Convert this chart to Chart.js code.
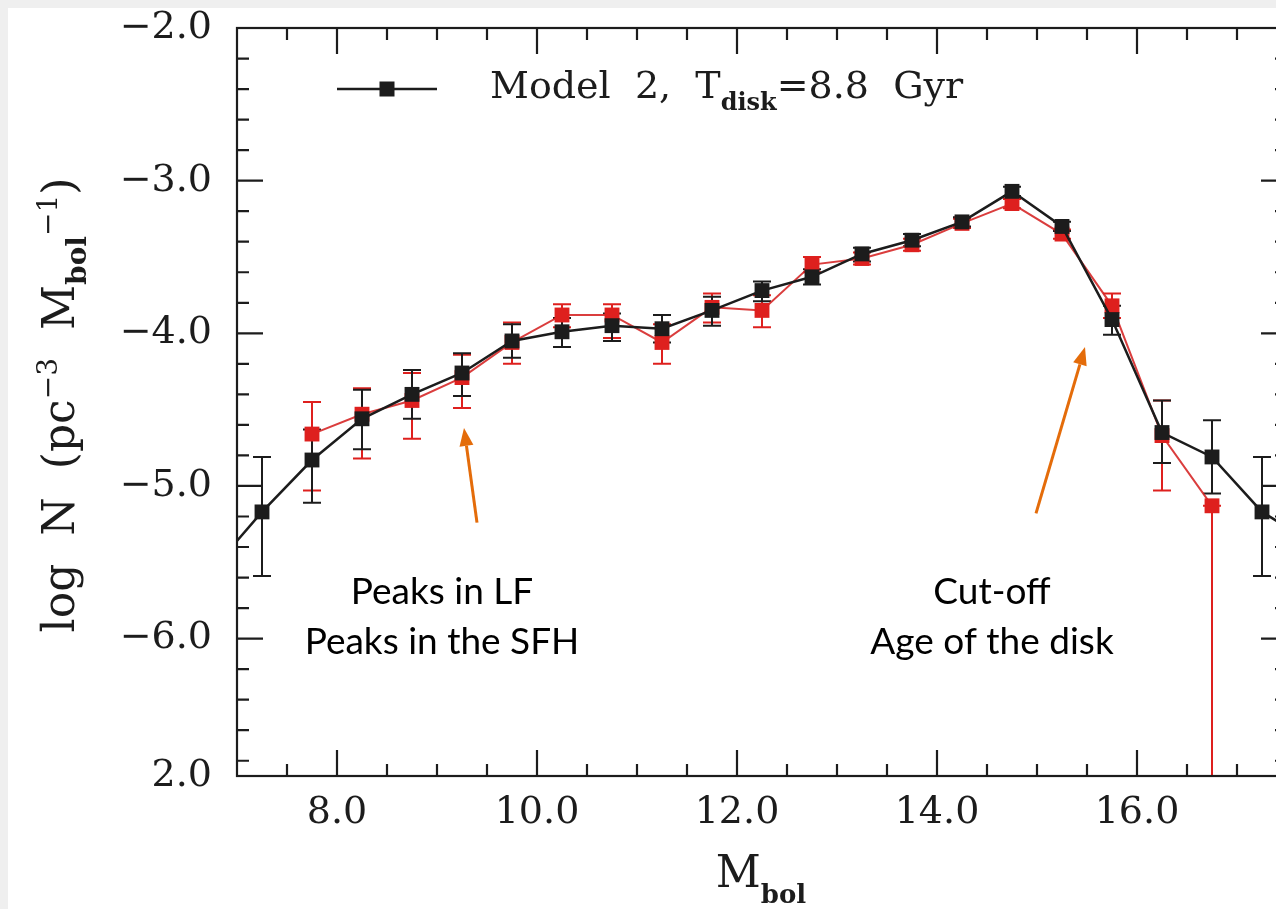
<!DOCTYPE html>
<html>
<head>
<meta charset="utf-8">
<script src="https://cdn.jsdelivr.net/npm/chart.js@4.4.1/dist/chart.umd.min.js"></script>
<style>
  html, body { margin: 0; padding: 0; background: #efefef; }
  #wrap { position: relative; width: 1276px; height: 909px; overflow: hidden; background: #efefef; }
  #panel { position: absolute; left: 8px; top: 8px; right: 0; bottom: 0; background: #fff; }
  #lf { position: absolute; left: 0; top: 0; }
</style>
</head>
<body>
<div id="wrap">
  <div id="panel"></div>
  <canvas id="lf" width="1300" height="909"></canvas>
</div>
<script>
// bolometric magnitude bins (bin centres)
const modelMbol = [6.75, 7.25, 7.75, 8.25, 8.75, 9.25, 9.75, 10.25, 10.75, 11.25, 11.75,
  12.25, 12.75, 13.25, 13.75, 14.25, 14.75, 15.25, 15.75, 16.25, 16.75, 17.25, 17.75];
// Model 2 luminosity function, log N
const modelLogN = [-5.55, -5.17, -4.83, -4.56, -4.40, -4.26, -4.05, -3.99, -3.95, -3.97, -3.85,
  -3.72, -3.63, -3.48, -3.39, -3.27, -3.07, -3.30, -3.91, -4.65, -4.81, -5.17, -5.37];
const modelErrLo = [null, -5.59, -5.11, -4.76, -4.56, -4.41, -4.16, -4.09, -4.05, -4.06, -3.95,
  -3.79, -3.68, -3.53, -3.43, -3.30, -3.10, -3.33, -4.01, -4.85, -5.05, -5.59, null];
const modelErrHi = [null, -4.81, -4.63, -4.37, -4.24, -4.13, -3.94, -3.90, -3.87, -3.88, -3.76,
  -3.66, -3.58, -3.44, -3.35, -3.24, -3.04, -3.27, -3.82, -4.44, -4.57, -4.81, null];

// observed luminosity function
const obsMbol = [7.75, 8.25, 8.75, 9.25, 9.75, 10.25, 10.75, 11.25, 11.75, 12.25,
  12.75, 13.25, 13.75, 14.25, 14.75, 15.25, 15.75, 16.25, 16.75];
const obsLogN = [-4.66, -4.53, -4.44, -4.29, -4.06, -3.88, -3.88, -4.06, -3.83, -3.85,
  -3.55, -3.51, -3.42, -3.28, -3.15, -3.35, -3.82, -4.67, -5.13];
const obsErrLo = [-5.03, -4.82, -4.69, -4.49, -4.20, -3.96, -4.03, -4.20, -3.93, -3.96,
  -3.60, -3.55, -3.46, -3.31, -3.18, -3.38, -3.90, -5.03, -9.0];
const obsErrHi = [-4.45, -4.36, -4.26, -4.14, -3.93, -3.81, -3.81, -3.94, -3.74, -3.75,
  -3.50, -3.47, -3.38, -3.25, -3.12, -3.32, -3.74, -4.44, -5.13];

const xTickValues = [8, 10, 12, 14, 16];
const xTickLabels = ['8.0', '10.0', '12.0', '14.0', '16.0'];
const yTickValues = [-6.9, -6, -5, -4, -3, -2];
const yTickLabels = ['2.0', '\u22126.0', '\u22125.0', '\u22124.0', '\u22123.0', '\u22122.0'];

const INK = '#1c1c1c';
const RED = 'rgb(222,32,30)';
const ORANGE = '#E46C0A';
const SERIF = '"DejaVu Serif", serif';
const NOTE = 'Lato, "Open Sans", sans-serif';

function pairs(xs, ys) {
  return xs.map((x, i) => ({ x: x, y: ys[i] }));
}

// draw a sequence of text pieces (sub/superscripts) one after another
function textRuns(ctx, parts, x, y) {
  for (const p of parts) {
    ctx.font = p.f;
    ctx.fillText(p.t, x, y + (p.dy || 0));
    x += ctx.measureText(p.t).width;
  }
  return x;
}

function runsWidth(ctx, parts) {
  let w = 0;
  for (const p of parts) { ctx.font = p.f; w += ctx.measureText(p.t).width; }
  return w;
}

function errorBars(chart, xs, lo, hi, color) {
  const { ctx, chartArea: a, scales: { x, y } } = chart;
  ctx.save();
  ctx.beginPath();
  ctx.rect(a.left, a.top, a.right - a.left, a.bottom - a.top);
  ctx.clip();
  ctx.strokeStyle = color;
  ctx.lineWidth = 2;
  xs.forEach((m, i) => {
    if (lo[i] == null) return;
    const px = x.getPixelForValue(m);
    const p1 = y.getPixelForValue(lo[i]);
    const p2 = y.getPixelForValue(hi[i]);
    ctx.beginPath();
    ctx.moveTo(px, p1); ctx.lineTo(px, p2);
    ctx.moveTo(px - 9, p1); ctx.lineTo(px + 9, p1);
    ctx.moveTo(px - 9, p2); ctx.lineTo(px + 9, p2);
    ctx.stroke();
  });
  ctx.restore();
}

function arrow(ctx, x0, y0, x1, y1) {
  const ang = Math.atan2(y1 - y0, x1 - x0);
  const len = 18, half = 7;
  const bx = x1 - len * Math.cos(ang), by = y1 - len * Math.sin(ang);
  ctx.beginPath();
  ctx.moveTo(x0, y0);
  ctx.lineTo(bx, by);
  ctx.stroke();
  ctx.beginPath();
  ctx.moveTo(x1, y1);
  ctx.lineTo(bx + half * Math.sin(ang), by - half * Math.cos(ang));
  ctx.lineTo(bx - half * Math.sin(ang), by + half * Math.cos(ang));
  ctx.closePath();
  ctx.fill();
}

const decorations = {
  id: 'decorations',
  beforeDatasetsDraw(chart) {
    errorBars(chart, obsMbol, obsErrLo, obsErrHi, RED);
    errorBars(chart, modelMbol, modelErrLo, modelErrHi, INK);
  },
  afterDatasetsDraw(chart) {
    const { ctx, chartArea: a, scales: { x, y } } = chart;
    ctx.save();
    ctx.strokeStyle = INK;
    ctx.lineWidth = 2.2;
    ctx.strokeRect(a.left, a.top, a.right - a.left, a.bottom - a.top);
    ctx.beginPath();
    // x ticks every 0.5, long ones on the labelled values
    for (let k = 15; k <= 34; k++) {
      const v = k * 0.5;
      const px = x.getPixelForValue(v);
      const len = xTickValues.includes(v) ? 26 : 12;
      ctx.moveTo(px, a.bottom); ctx.lineTo(px, a.bottom - len);
      ctx.moveTo(px, a.top); ctx.lineTo(px, a.top + len);
    }
    // y ticks every 0.2
    for (let k = -34; k <= -11; k++) {
      const py = y.getPixelForValue(k * 0.2);
      const len = k % 5 === 0 ? 26 : 12;
      ctx.moveTo(a.left, py); ctx.lineTo(a.left + len, py);
      ctx.moveTo(a.right, py); ctx.lineTo(a.right - len, py);
    }
    ctx.stroke();
    ctx.restore();
  },
  afterDraw(chart) {
    const { ctx, chartArea: a, scales: { x, y } } = chart;
    ctx.save();
    ctx.fillStyle = INK;
    ctx.textBaseline = 'alphabetic';
    ctx.textAlign = 'left';

    // legend
    const ly = a.top + 61;
    ctx.strokeStyle = INK;
    ctx.lineWidth = 2.5;
    ctx.beginPath();
    ctx.moveTo(a.left + 100, ly); ctx.lineTo(a.left + 200, ly);
    ctx.stroke();
    ctx.fillRect(a.left + 150 - 7.5, ly - 7.5, 15, 15);
    textRuns(ctx, [
      { t: 'Model  2,  T', f: '38px ' + SERIF },
      { t: 'disk', f: 'bold 24px ' + SERIF, dy: 12 },
      { t: '=8.8  Gyr', f: '38px ' + SERIF }
    ], a.left + 253, a.top + 70);

    // x axis title
    const xt = [
      { t: 'M', f: '44px ' + SERIF },
      { t: 'bol', f: 'bold 26px ' + SERIF, dy: 16 }
    ];
    textRuns(ctx, xt, a.left + 524 - runsWidth(ctx, xt) / 2, 887);

    // y axis title, reading upwards
    ctx.save();
    ctx.translate(74, 0);
    ctx.rotate(-Math.PI / 2);
    const yt = [
      { t: 'log  N  (pc', f: '44px ' + SERIF },
      { t: '\u22123', f: '28px ' + SERIF, dy: -17 },
      { t: '  M', f: '44px ' + SERIF },
      { t: 'bol', f: 'bold 28px ' + SERIF, dy: 12 },
      { t: '\u22121', f: '28px ' + SERIF, dy: -17 },
      { t: ')', f: '44px ' + SERIF }
    ];
    textRuns(ctx, yt, -(405 + runsWidth(ctx, yt) / 2), 0);
    ctx.restore();

    // notes and arrows
    ctx.fillStyle = '#000';
    ctx.textAlign = 'center';
    ctx.font = '37px ' + NOTE;
    const nx1 = x.getPixelForValue(9.05), nx2 = x.getPixelForValue(14.55);
    const b1 = y.getPixelForValue(-5.77), b2 = y.getPixelForValue(-6.10);
    ctx.fillText('Peaks in LF', nx1, b1);
    ctx.fillText('Peaks in the SFH', nx1, b2);
    ctx.fillText('Cut-off', nx2, b1);
    ctx.fillText('Age of the disk', nx2, b2);

    ctx.strokeStyle = ORANGE;
    ctx.fillStyle = ORANGE;
    ctx.lineWidth = 3;
    arrow(ctx, x.getPixelForValue(9.40), y.getPixelForValue(-5.24),
      x.getPixelForValue(9.27), y.getPixelForValue(-4.62));
    arrow(ctx, x.getPixelForValue(14.99), y.getPixelForValue(-5.18),
      x.getPixelForValue(15.48), y.getPixelForValue(-4.09));
    ctx.restore();
  }
};

// keep the plot frame where the axis boxes say, ignoring label overhang
function noOverhang(s) {
  s.paddingTop = 0; s.paddingBottom = 0;
  s.paddingLeft = 0; s.paddingRight = 0;
}

new Chart(document.getElementById('lf'), {
  type: 'line',
  data: {
    datasets: [
      {
        label: 'Model 2',
        data: pairs(modelMbol, modelLogN),
        borderColor: INK,
        backgroundColor: INK,
        borderWidth: 2.5,
        pointStyle: 'rect',
        pointRadius: 10.5,
        pointHoverRadius: 10.5,
        pointBorderWidth: 0,
        pointBackgroundColor: INK,
        clip: 0
      },
      {
        label: 'Observed',
        data: pairs(obsMbol, obsLogN),
        borderColor: 'rgba(214,40,40,0.9)',
        backgroundColor: RED,
        borderWidth: 2,
        pointStyle: 'rect',
        pointRadius: 10.5,
        pointHoverRadius: 10.5,
        pointBorderWidth: 0,
        pointBackgroundColor: RED,
        clip: 0
      }
    ]
  },
  options: {
    responsive: false,
    animation: false,
    devicePixelRatio: 1,
    layout: { padding: { top: 28, right: 13, left: 0, bottom: 0 } },
    plugins: { legend: { display: false }, tooltip: { enabled: false } },
    scales: {
      x: {
        type: 'linear',
        min: 7,
        max: 17.5,
        grid: { display: false, drawTicks: false },
        border: { display: false },
        afterBuildTicks: (s) => { s.ticks = xTickValues.map(v => ({ value: v })); },
        afterFit: (s) => { s.height = 133; noOverhang(s); },
        ticks: {
          autoSkip: false,
          maxRotation: 0,
          padding: 14,
          color: INK,
          font: { family: SERIF, size: 38 },
          callback: (v) => xTickLabels[xTickValues.indexOf(v)]
        }
      },
      y: {
        type: 'linear',
        min: -6.9,
        max: -2,
        grid: { display: false, drawTicks: false },
        border: { display: false },
        afterBuildTicks: (s) => { s.ticks = yTickValues.map(v => ({ value: v })); },
        afterFit: (s) => { s.width = 237; noOverhang(s); },
        ticks: {
          autoSkip: false,
          padding: 25,
          color: INK,
          font: { family: SERIF, size: 38 },
          callback: (v) => yTickLabels[yTickValues.indexOf(v)]
        }
      }
    }
  },
  plugins: [decorations]
});
</script>
</body>
</html>
